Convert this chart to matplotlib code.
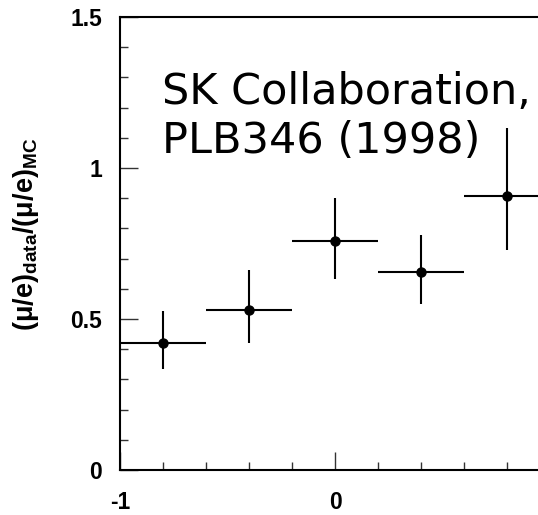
import matplotlib
matplotlib.use("Agg")
import matplotlib.pyplot as plt
from matplotlib.ticker import MultipleLocator, FixedLocator

# cos(theta) bin centres and half-widths
cos_theta = [-0.8, -0.4, 0.0, 0.4, 0.8]
bin_half_width = [0.2, 0.2, 0.2, 0.2, 0.2]
# double ratio (mu/e)_data / (mu/e)_MC with asymmetric errors
ratio = [0.42, 0.53, 0.757, 0.655, 0.907]
err_low = [0.087, 0.109, 0.126, 0.105, 0.179]
err_high = [0.106, 0.131, 0.145, 0.123, 0.224]

x_ticks = [-1, 0]
x_ticklabels = ["-1", "0"]
y_ticks = [0, 0.5, 1, 1.5]
y_ticklabels = ["0", "0.5", "1", "1.5"]

plt.rcParams["font.family"] = ["Liberation Sans", "DejaVu Sans"]
plt.rcParams["font.weight"] = "bold"
plt.rcParams["mathtext.fontset"] = "custom"
plt.rcParams["mathtext.bf"] = "Liberation Sans:bold"
plt.rcParams["mathtext.rm"] = "Liberation Sans:bold"
plt.rcParams["mathtext.default"] = "bf"

fig = plt.figure(figsize=(5.38, 5.15), dpi=100)
ax = fig.add_axes([120 / 538, 45 / 515, 430 / 538, 453 / 515])

ax.errorbar(cos_theta, ratio, xerr=bin_half_width, yerr=[err_low, err_high],
            fmt="o", color="black", ms=6.5, elinewidth=1.5, capsize=0,
            clip_on=False, zorder=3)

ax.set_xlim(-1, 1)
ax.set_ylim(0, 1.5)

ax.xaxis.set_major_locator(FixedLocator(x_ticks))
ax.set_xticklabels(x_ticklabels)
ax.yaxis.set_major_locator(FixedLocator(y_ticks))
ax.set_yticklabels(y_ticklabels)
ax.xaxis.set_minor_locator(MultipleLocator(0.2))
ax.yaxis.set_minor_locator(MultipleLocator(0.1))

ax.tick_params(which="both", direction="in", top=False, right=False,
               color="#333333", width=1.0, labelsize=16.5)
ax.tick_params(which="major", length=13)
ax.tick_params(which="minor", length=6)
ax.tick_params(axis="y", which="major", pad=13)
ax.tick_params(axis="x", which="major", pad=15)

for side in ax.spines.values():
    side.set_linewidth(1.5)

ax.set_ylabel(r"(μ/e)$_{data}$/(μ/e)$_{MC}$",
              fontweight="bold", fontsize=19.5)
ax.yaxis.set_label_coords(-0.183, 0.52)

ax.text(-0.806, 1.05, "SK Collaboration,\nPLB346 (1998)",
        family="DejaVu Sans", fontweight="normal", fontsize=31,
        ha="left", va="baseline", linespacing=1.2)

fig.savefig("out.png", dpi=100)
